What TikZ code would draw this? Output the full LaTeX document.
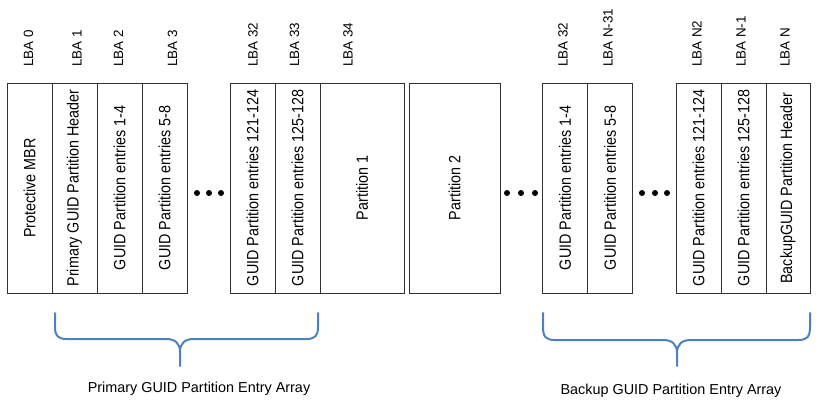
\documentclass[tikz,border=0pt]{standalone}
\usepackage{fontspec}
\setmainfont{Liberation Sans}
\definecolor{bracecol}{RGB}{79,129,189}
\definecolor{linecol}{RGB}{50,50,50}
\newcommand{\sq}[1]{\scalebox{0.88}[1]{#1}}
\begin{document}
\begin{tikzpicture}[x=1pt,y=-1pt,
  box/.style={draw=linecol, line width=1pt, rotate=90, minimum width=210pt, inner sep=0pt,
    font=\fontsize{16.3}{18}\selectfont},
  lba/.style={rotate=90, anchor=west, inner sep=0pt, font=\fontsize{13.4}{15}\selectfont},
  brace/.style={draw=bracecol, line width=2pt, line cap=round, line join=round},
  dot/.style={fill=black},
  arr/.style={font=\fontsize{14.4}{16}\selectfont, inner sep=0pt}]
\useasboundingbox[fill=white] (0,0) rectangle (819,413);
% boxes
\node[box, minimum height=45pt] (b0) at (29.5,188) {\sq{Protective MBR}};
\node[box, minimum height=45pt] (b1) at (74.5,188) {\sq{Primary GUID Partition Header}};
\node[box, minimum height=45pt] (b2) at (119.5,188) {\sq{GUID Partition entries 1-4}};
\node[box, minimum height=45pt] (b3) at (164.5,188) {\sq{GUID Partition entries 5-8}};
\node[box, minimum height=45pt] (b32) at (252.5,188) {\sq{GUID Partition entries 121-124}};
\node[box, minimum height=45pt] (b33) at (297.5,188) {\sq{GUID Partition entries 125-128}};
\node[box, minimum height=84pt] (p1) at (362,188) {\sq{Partition 1}};
\node[box, minimum height=91pt] (p2) at (454.5,188) {\sq{Partition 2}};
\node[box, minimum height=45pt] (c1) at (565,188) {\sq{GUID Partition entries 1-4}};
\node[box, minimum height=45pt] (c2) at (610,188) {\sq{GUID Partition entries 5-8}};
\node[box, minimum height=45pt] (c3) at (698.5,188) {\sq{GUID Partition entries 121-124}};
\node[box, minimum height=45pt] (c4) at (743.5,188) {\sq{GUID Partition entries 125-128}};
\node[box, minimum height=44pt] (c5) at (788,188) {\sq{BackupGUID Partition Header}};
% LBA labels
\node[lba] (l0) at (28.5,67) {LBA 0};
\node[lba] (l1) at (77,67) {LBA 1};
\node[lba] (l2) at (118.5,67) {LBA 2};
\node[lba] (l3) at (172.5,67) {LBA 3};
\node[lba] (l32) at (253,67) {LBA 32};
\node[lba] (l33) at (294.5,67) {LBA 33};
\node[lba] (l34) at (348,67) {LBA 34};
\node[lba] (m32) at (563,67) {LBA 32};
\node[lba] (m31) at (608,67) {LBA N-31};
\node[lba] (mn2) at (697,67) {LBA N2};
\node[lba] (mn1) at (741,67) {LBA N-1};
\node[lba] (mn) at (785,67) {LBA N};
% ellipsis dots
\foreach \x in {197,209,221,507,521,535,642,655,667}
  \fill[dot] (\x,193) circle (3);
% braces
\coordinate (pa) at (55,313);
\coordinate (pb) at (318,313);
\coordinate (pt) at (180,366);
\draw[brace] (pa) -- (55,327) .. controls (55,336) and (58,339) .. (67,339) -- (166,339)
  .. controls (175,339) and (180,343) .. (180,352) -- (pt);
\draw[brace] (pb) -- (318,327) .. controls (318,336) and (315,339) .. (306,339) -- (194,339)
  .. controls (185,339) and (180,343) .. (180,352);
\coordinate (qa) at (543,313);
\coordinate (qb) at (810,313);
\coordinate (qt) at (677,366);
\draw[brace] (qa) -- (543,327) .. controls (543,337) and (546,340) .. (555,340) -- (663,340)
  .. controls (672,340) and (677,344) .. (677,353) -- (qt);
\draw[brace] (qb) -- (810,327) .. controls (810,337) and (807,340) .. (798,340) -- (691,340)
  .. controls (682,340) and (677,344) .. (677,353);
% array labels
\node[arr] (pl) at (199,389) {Primary GUID Partition Entry Array};
\node[arr] (bl) at (671,391) {Backup GUID Partition Entry Array};
\end{tikzpicture}
\end{document}
